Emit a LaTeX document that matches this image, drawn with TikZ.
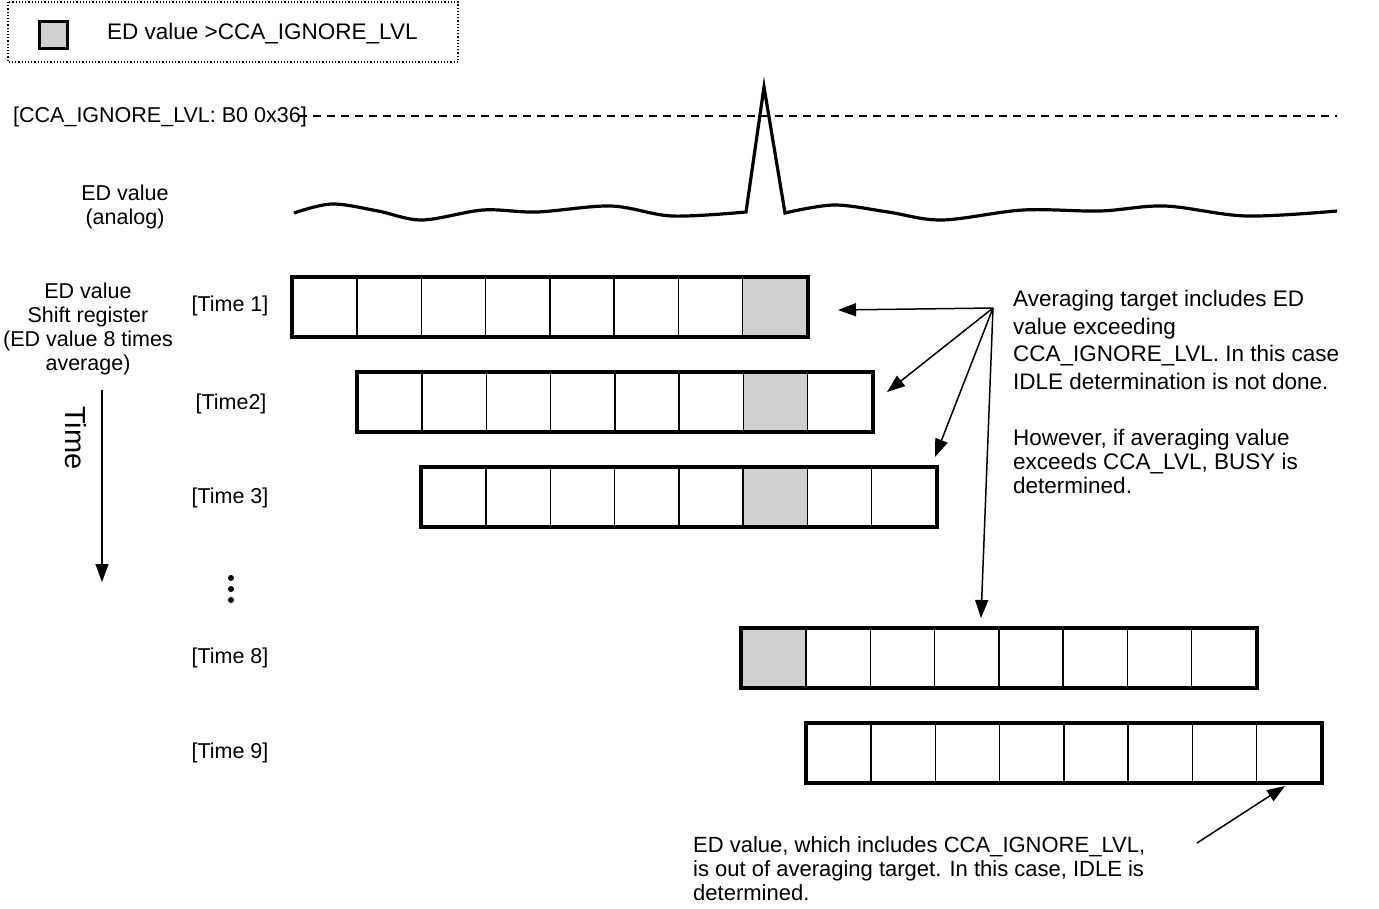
\documentclass[tikz,border=0pt]{standalone}
\usepackage{fontspec}
\setmainfont{Liberation Sans}
\usetikzlibrary{arrows.meta}
\definecolor{cellgray}{RGB}{208,208,208}
\begin{document}
\begin{tikzpicture}[x=1pt,y=-1pt,
  txt/.style={font=\fontsize{21.5}{24}\selectfont, inner sep=0pt},
  cell/.style={draw, line width=1.5pt, minimum width=64.25pt, minimum height=58pt, inner sep=0pt, anchor=north west},
  outer/.style={line width=4pt},
  arr/.style={line width=1.5pt, -{Triangle[length=18pt,width=13pt]}},
  wave/.style={line width=3.2pt, line join=miter}
]
\useasboundingbox (0,0) rectangle (1379,908);

% legend
\draw[dotted, line width=1.2pt] (8,2) rectangle (458,62);
\node[draw, line width=3pt, fill=cellgray, minimum width=28pt, minimum height=27pt, inner sep=0pt] (legsq) at (53,35) {};
\node[txt, anchor=west, font=\fontsize{22.5}{24}\selectfont] (legtxt) at (107,34) {ED value >CCA\_IGNORE\_LVL};

% threshold
\node[txt, anchor=west] (thr) at (13,117) {[CCA\_IGNORE\_LVL: B0 0x36]};
\draw[dash pattern=on 8pt off 6pt, line width=1.2pt] (299,116) -- (1337,116);

% analog label and wave
\node[txt, align=center] (analog) at (125,207) {ED value\\(analog)};
\draw[wave] plot[smooth, tension=0.55] coordinates {(294,213) (332,204) (378,211) (422,220) (483,210) (537,212) (611,206) (672,216) (746,212)}
  -- (764,87) -- (785,213)
  -- plot[smooth, tension=0.55] coordinates {(785,213) (834,205) (888,212) (942,220) (1023,210) (1100,211) (1165,206) (1246,216) (1337,211)};

% left labels
\node[txt, align=center] (srlbl) at (88,329) {ED value\\Shift register\\(ED value 8 times\\average)};
\draw[arr] (102,390) -- (102,582);
\node[inner sep=0pt, font=\fontsize{29}{32}\selectfont, rotate=-90] (timelbl) at (76,438) {Time};

% time labels
\node[txt] (t1) at (230,306) {[Time 1]};
\node[txt] (t2) at (231,404) {[Time2]};
\node[txt] (t3) at (230,498) {[Time 3]};
\node[txt] (t8) at (230,658) {[Time 8]};
\node[txt] (t9) at (230,753) {[Time 9]};

% dots
\fill (231,578) circle (3pt) (231,589) circle (3pt) (231,600) circle (3pt);

% registers
\foreach \r/\xo/\yo/\g in {1/292/277/8, 2/357/372/7, 3/421/467/6, 8/741/628/1, 9/806/723/0}{
  \foreach \i in {1,...,8}{
    \ifnum\i=\g
      \node[cell, fill=cellgray] (r\r c\i) at ({\xo+(\i-1)*64.25},\yo) {};
    \else
      \node[cell] (r\r c\i) at ({\xo+(\i-1)*64.25},\yo) {};
    \fi
  }
  \draw[outer] (r\r c1.north west) rectangle (r\r c8.south east);
}

% callout
\node[txt, anchor=north west, align=left, font=\fontsize{22.5}{27.5}\selectfont] (call1) at (1013,290) {Averaging target includes ED\\value exceeding\\CCA\_IGNORE\_LVL. In this case\\IDLE determination is not done.};
\node[txt, anchor=north west, align=left, font=\fontsize{22.5}{24}\selectfont] (call2) at (1013,429) {However, if averaging value\\exceeds CCA\_LVL, BUSY is\\determined.};

\coordinate (o) at (993,308);
\coordinate (a1) at (838,310);
\coordinate (a2) at (887,392);
\coordinate (a3) at (935,457);
\coordinate (a4) at (981,618);
\draw[arr] (o) -- (a1);
\draw[arr] (o) -- (a2);
\draw[arr] (o) -- (a3);
\draw[arr] (o) -- (a4);

% bottom note
\node[txt, anchor=north west, align=left, font=\fontsize{22}{24}\selectfont] (note) at (693,836) {ED value, which includes CCA\_IGNORE\_LVL,\\is out of averaging target. In this case, IDLE is\\determined.};
\coordinate (b0) at (1197,843);
\coordinate (b1) at (1285,786);
\draw[arr] (b0) -- (b1);
\end{tikzpicture}
\end{document}
